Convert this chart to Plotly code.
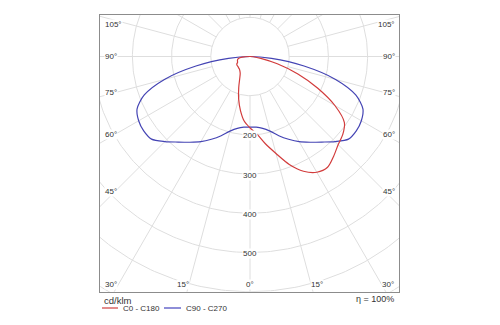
import numpy as np
import plotly.graph_objects as go

# Luminous intensity distribution, cd/klm, at gamma angles from nadir
gamma = [0, 5, 10, 15, 20, 25, 30, 35, 40, 45, 50, 55, 60, 65, 70, 75, 80, 85, 90]
c0 = [182, 198, 226, 256, 293, 323, 341, 345, 332, 318, 309, 294, 250, 190, 130, 72, 28, 8, 0]
c180 = [182, 166, 140, 112, 84, 62, 50, 45, 42, 41, 40, 40, 39, 35, 34, 33, 30, 20, 0]
c90 = [180, 181, 186, 197, 215, 233, 251, 267, 285, 307, 328, 331, 328, 318, 287, 226, 140, 55, 0]
c270 = c90[:]

ring_values = [100, 200, 300, 400, 500, 600, 700, 800]
ring_labels = ["200", "300", "400", "500"]
spoke_step = 15
side_labels = ["105°", "90°", "75°", "60°", "45°"]
bottom_labels = ["30°", "15°", "0°", "15°", "30°"]
series_names = ["C0 - C180", "C90 - C270"]
unit_text = "cd/klm"
efficiency_text = "η = 100%"

W, H = 500, 325
CX, CY = 250.0, 56.5          # pole position in pixels
S = 0.392                      # pixels per cd/klm
BOX_L, BOX_R, BOX_T, BOX_B = 100.0, 399.0, 14.7, 291.7

RED = "#d23c3c"
BLUE = "#4444b4"
GRID = "#dedede"
FONT = "Liberation Sans"


def to_xy(left_vals, right_vals):
    g = np.array(gamma, dtype=float)
    lv = np.array(left_vals, dtype=float)
    rv = np.array(right_vals, dtype=float)
    # left half runs from 90 deg down to nadir, right half from nadir up to 90 deg
    ang = np.concatenate([-g[::-1], g[1:]])
    val = np.concatenate([lv[::-1], rv[1:]])
    rad = np.deg2rad(ang)
    return val * np.sin(rad), -val * np.cos(rad)


fig = go.Figure()

# concentric rings
t = np.deg2rad(np.arange(0, 361, 1.0))
for r in ring_values:
    fig.add_trace(go.Scatter(x=r * np.sin(t), y=-r * np.cos(t), mode="lines",
                             line=dict(color=GRID, width=1), hoverinfo="skip",
                             showlegend=False))

# radial spokes starting at the first ring
for a in range(0, 360, spoke_step):
    ar = np.deg2rad(a)
    fig.add_trace(go.Scatter(x=[100 * np.sin(ar), 1200 * np.sin(ar)],
                             y=[-100 * np.cos(ar), -1200 * np.cos(ar)],
                             mode="lines", line=dict(color=GRID, width=1),
                             hoverinfo="skip", showlegend=False))

xr, yr = to_xy(c180, c0)
xb, yb = to_xy(c270, c90)
fig.add_trace(go.Scatter(x=xb, y=yb, mode="lines", name=series_names[1],
                         line=dict(color=BLUE, width=1.2, shape="spline", smoothing=0.8),
                         showlegend=False))
fig.add_trace(go.Scatter(x=xr, y=yr, mode="lines", name=series_names[0],
                         line=dict(color=RED, width=1.2, shape="spline", smoothing=0.8),
                         showlegend=False))


def px(x):
    return x / W


def py(y):
    return 1 - y / H


ann = []
# ring values along the nadir axis
for lab in ring_labels:
    ann.append(dict(x=0, y=-float(lab), xref="x", yref="y", text=lab, showarrow=False,
                    yshift=-1, bgcolor="white", borderpad=0,
                    font=dict(family=FONT, size=8, color="#333")))

side_y = [25, 56.7, 92.5, 134.3, 191.7]
for lab, yy in zip(side_labels, side_y):
    ann.append(dict(x=px(104), y=py(yy), xref="paper", yref="paper", text=lab,
                    showarrow=False, xanchor="left", yanchor="middle",
                    bgcolor="white", borderpad=0,
                    font=dict(family=FONT, size=8, color="#333")))
    ann.append(dict(x=px(395.5), y=py(yy), xref="paper", yref="paper", text=lab,
                    showarrow=False, xanchor="right", yanchor="middle",
                    bgcolor="white", borderpad=0,
                    font=dict(family=FONT, size=8, color="#333")))

bottom_x = [111.3, 183, 250, 316.8, 388]
for lab, xx in zip(bottom_labels, bottom_x):
    ann.append(dict(x=px(xx), y=py(284.3), xref="paper", yref="paper", text=lab,
                    showarrow=False, xanchor="center", yanchor="middle",
                    bgcolor="white", borderpad=0,
                    font=dict(family=FONT, size=8, color="#333")))

ann.append(dict(x=px(101.5), y=py(300), xref="paper", yref="paper", text=unit_text,
                showarrow=False, xanchor="left", yanchor="middle",
                font=dict(family=FONT, size=9.5, color="#333")))
ann.append(dict(x=px(395.5), y=py(298.5), xref="paper", yref="paper", text=efficiency_text,
                showarrow=False, xanchor="right", yanchor="middle",
                font=dict(family=FONT, size=9, color="#333")))
ann.append(dict(x=px(121), y=py(308), xref="paper", yref="paper", text=series_names[0],
                showarrow=False, xanchor="left", yanchor="middle",
                font=dict(family=FONT, size=8, color="#333")))
ann.append(dict(x=px(184), y=py(308), xref="paper", yref="paper", text=series_names[1],
                showarrow=False, xanchor="left", yanchor="middle",
                font=dict(family=FONT, size=8, color="#333")))

shapes = [
    dict(type="line", xref="paper", yref="paper", x0=px(102), x1=px(118),
         y0=py(308), y1=py(308), line=dict(color="#e38c8c", width=2)),
    dict(type="line", xref="paper", yref="paper", x0=px(164), x1=px(181),
         y0=py(308), y1=py(308), line=dict(color="#8e8ed8", width=2)),
]

fig.update_layout(
    width=W, height=H, margin=dict(l=0, r=0, t=0, b=0),
    paper_bgcolor="white", plot_bgcolor="white",
    xaxis=dict(domain=[px(BOX_L), px(BOX_R)],
               range=[-(CX - BOX_L) / S, (BOX_R - CX) / S],
               showgrid=False, zeroline=False, showticklabels=False, ticks="",
               showline=True, mirror=True, linecolor="#8c8c8c", linewidth=1,
               fixedrange=True),
    yaxis=dict(domain=[py(BOX_B), py(BOX_T)],
               range=[-(BOX_B - CY) / S, (CY - BOX_T) / S],
               showgrid=False, zeroline=False, showticklabels=False, ticks="",
               showline=True, mirror=True, linecolor="#8c8c8c", linewidth=1,
               fixedrange=True),
    annotations=ann, shapes=shapes, showlegend=False,
)

fig.write_html("out.html")
